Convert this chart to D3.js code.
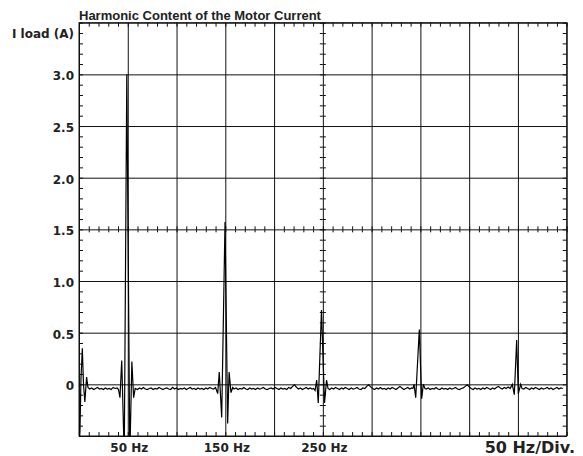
<!DOCTYPE html>
<html>
<head>
<meta charset="utf-8">
<script src="https://cdn.jsdelivr.net/npm/d3@7"></script>
<style>
  body { margin: 0; background: #fff; }
  svg { display: block; }
  .lbl { font-family: "DejaVu Sans", sans-serif; font-weight: bold; font-size: 12px; fill: #222; }
  .ttl { font-family: "Liberation Sans", Arial, sans-serif; font-weight: bold; font-size: 13px; fill: #222; }
</style>
</head>
<body>
<svg id="chart" width="583" height="456"></svg>
<script>
// axis data
var xMajor = [0, 50, 100, 150, 200, 250, 300, 350, 400, 450, 500];
var yMajor = [-0.5, 0, 0.5, 1.0, 1.5, 2.0, 2.5, 3.0, 3.5];
var xLabels = [50, 150, 250];
var yLabels = [0, 0.5, 1.0, 1.5, 2.0, 2.5, 3.0];
var xMinor = d3.range(0, 501, 10);
var yMinor = d3.range(-5, 36).map(function(d) { return d / 10; });

// spectrum trace: [frequency Hz, current A]
var dcPart = [[0.2,-0.6],[1.0,-0.45],[2.0,0.05],[3.4,0.35],[4.6,0.0],[6.0,-0.17],[7.8,0.07],[9.2,-0.03]];
var base1 = [[11,-0.045],[13,-0.035],[15,-0.05],[17,-0.04],[19,-0.03],[21,-0.045],[23,-0.04],[25,-0.05],[27,-0.035],[29,-0.045],[31,-0.04],[33,-0.05],[35,-0.03],[37,-0.04],[39,-0.035]];
var peak50 = [[40.5,-0.05],[42,-0.13],[43.8,0.23],[46.4,-0.7],[49,3.0],[52.1,-0.7],[54.2,0.22],[56,-0.13],[57.6,-0.04]];
var base2 = [[60,-0.05],[62,-0.035],[64,-0.045],[66,-0.03],[68,-0.045],[70,-0.05],[72,-0.04],[74,-0.035],[76,-0.05],[78,-0.04],[80,-0.045],[82,-0.03],[84,-0.04],[86,-0.05],[88,-0.04],[90,-0.035],[92,-0.045],[94,-0.05],[96,-0.03],[98,-0.045],[100,-0.035],[102,-0.05],[104,-0.04],[106,-0.045],[108,-0.035],[110,-0.05],[112,-0.04],[114,-0.03],[116,-0.045],[118,-0.04],[120,-0.05],[122,-0.035],[124,-0.045],[126,-0.04],[128,-0.05],[130,-0.035],[132,-0.045],[134,-0.03],[136,-0.04],[138,-0.045]];
var peak150 = [[140,-0.03],[142.2,-0.09],[143.8,0.12],[146.3,-0.32],[149.7,1.57],[152.4,-0.38],[153.9,0.12],[155.8,-0.08],[157.6,-0.03]];
var base3 = [[159,-0.045],[161,-0.035],[163,-0.05],[165,-0.04],[167,-0.045],[169,-0.03],[171,-0.045],[173,-0.05],[175,-0.035],[177,-0.045],[179,-0.04],[181,-0.05],[183,-0.035],[185,-0.045],[187,-0.04],[189,-0.03],[191,-0.045],[193,-0.05],[195,-0.04],[197,-0.035],[199,-0.045],[201,-0.03],[203,-0.04],[205,-0.05],[207,-0.035],[209,-0.045],[211,-0.04],[213,-0.05],[215,-0.03],[217,-0.04],[219,-0.02],[221,-0.005],[223,-0.03],[225,-0.045],[227,-0.035],[229,-0.05],[231,-0.04],[233,-0.03],[235,-0.045],[237,-0.035],[239,-0.045],[240.5,-0.04]];
var peak250 = [[242,-0.06],[243.7,0.04],[245.3,-0.18],[248.6,0.72],[251.7,-0.18],[253.8,0.04],[255.3,-0.04]];
var base4 = [[257,-0.05],[259,-0.035],[261,-0.045],[263,-0.03],[265,-0.04],[267,-0.05],[269,-0.035],[271,-0.045],[273,-0.03],[275,-0.04],[277,-0.05],[279,-0.035],[281,-0.045],[283,-0.04],[285,-0.03],[287,-0.045],[289,-0.05],[291,-0.035],[293,-0.04],[295,-0.02],[297,-0.005],[299,-0.025],[301,-0.04],[303,-0.05],[305,-0.035],[307,-0.045],[309,-0.03],[311,-0.045],[313,-0.04],[315,-0.05],[317,-0.035],[319,-0.045],[321,-0.03],[323,-0.04],[325,-0.05],[327,-0.035],[329,-0.02],[331,-0.035],[333,-0.05],[335,-0.04],[337,-0.03],[339,-0.045],[341,-0.035],[342.3,-0.04]];
var peak350 = [[343.5,0.0],[345.2,-0.13],[348.9,0.53],[351.3,-0.14],[353,0.0],[354.7,-0.04]];
var base5 = [[356,-0.045],[358,-0.035],[360,-0.05],[362,-0.04],[364,-0.045],[366,-0.03],[368,-0.045],[370,-0.05],[372,-0.035],[374,-0.045],[376,-0.04],[378,-0.05],[380,-0.035],[382,-0.045],[384,-0.04],[386,-0.03],[388,-0.045],[390,-0.05],[392,-0.04],[394,-0.035],[396,-0.02],[398,-0.005],[400,-0.025],[402,-0.04],[404,-0.05],[406,-0.035],[408,-0.045],[410,-0.04],[412,-0.05],[414,-0.035],[416,-0.045],[418,-0.03],[420,-0.04],[422,-0.05],[424,-0.035],[426,-0.045],[428,-0.03],[430,-0.02],[432,-0.035],[434,-0.045],[436,-0.03],[438,-0.04],[440,-0.025],[442,-0.04],[443.2,-0.02]];
var peak450 = [[444.2,0.0],[446.3,-0.10],[448.7,0.43],[450.4,-0.09],[452.8,0.0],[454.2,-0.04]];
var base6 = [[456,-0.045],[458,-0.03],[460,-0.04],[462,-0.05],[464,-0.035],[466,-0.045],[468,-0.03],[470,-0.04],[472,-0.05],[474,-0.035],[476,-0.045],[478,-0.04],[480,-0.03],[482,-0.045],[484,-0.035],[486,-0.05],[488,-0.04],[490,-0.03],[492,-0.045],[494,-0.035],[496,-0.04]];

var trace = [].concat(dcPart, base1, peak50, base2, peak150, base3, peak250, base4, peak350, base5, peak450, base6);

(function() {
    var marginLeft = 79, marginTop = 22.7, width = 487.7, height = 413.3;

    var svg = d3.select("#chart");
    var g = svg.append("g").attr("transform", "translate(" + marginLeft + "," + marginTop + ")");

    var x = d3.scaleLinear().domain([0, 500]).range([0, width]);
    var y = d3.scaleLinear().domain([-0.5, 3.5]).range([height, 0]);

    function clean(sel) {
        sel.select(".domain").remove();
        sel.selectAll(".tick line").attr("stroke", "#111").attr("stroke-width", 1);
        sel.selectAll(".tick text").remove();
    }

    // grid lines
    g.append("g").attr("transform", "translate(0," + height + ")")
        .call(d3.axisBottom(x).tickValues(xMajor).tickSize(-height).tickFormat(""))
        .call(clean);
    g.append("g")
        .call(d3.axisLeft(y).tickValues(yMajor).tickSize(-width).tickFormat(""))
        .call(clean);

    // minor ticks on the frame
    g.append("g").call(d3.axisTop(x).tickValues(xMinor).tickSize(-4).tickFormat("")).call(clean);
    g.append("g").attr("transform", "translate(0," + height + ")")
        .call(d3.axisBottom(x).tickValues(xMinor).tickSize(-4).tickFormat("")).call(clean);
    g.append("g").call(d3.axisLeft(y).tickValues(yMinor).tickSize(-4).tickFormat("")).call(clean);
    g.append("g").attr("transform", "translate(" + width + ",0)")
        .call(d3.axisRight(y).tickValues(yMinor).tickSize(-4).tickFormat("")).call(clean);

    // cross ticks on the centre lines
    [3, -3].forEach(function(s) {
        g.append("g").attr("transform", "translate(0," + y(1.5) + ")")
            .call(d3.axisBottom(x).tickValues(xMinor).tickSize(s).tickFormat("")).call(clean);
        g.append("g").attr("transform", "translate(" + x(250) + ",0)")
            .call(d3.axisLeft(y).tickValues(yMinor).tickSize(s).tickFormat("")).call(clean);
    });

    // frame
    g.append("rect").attr("width", width).attr("height", height)
        .attr("fill", "none").attr("stroke", "#111").attr("stroke-width", 1);

    // trace
    g.append("clipPath").attr("id", "clip")
        .append("rect").attr("width", width).attr("height", height);
    var line = d3.line()
        .x(function(d) { return x(d[0]); })
        .y(function(d) { return y(d[1]); });
    g.append("path").datum(trace)
        .attr("clip-path", "url(#clip)")
        .attr("d", line)
        .attr("fill", "none")
        .attr("stroke", "#000")
        .attr("stroke-width", 1.2)
        .attr("stroke-linejoin", "miter");

    // labels
    var yAx = g.append("g")
        .call(d3.axisLeft(y).tickValues(yLabels).tickSize(0).tickPadding(5)
            .tickFormat(function(d) { return d === 0 ? "0" : d.toFixed(1); }));
    yAx.select(".domain").remove();
    yAx.selectAll("text").attr("class", "lbl").attr("font-family", null).attr("font-size", null)
        .attr("fill", null).attr("dy", "0.45em");
    yAx.attr("font-family", null).attr("font-size", null);

    var xAx = g.append("g").attr("transform", "translate(0," + height + ")")
        .call(d3.axisBottom(x).tickValues(xLabels).tickSize(0).tickPadding(5)
            .tickFormat(function(d) { return d + " Hz"; }));
    xAx.select(".domain").remove();
    xAx.selectAll("text").attr("class", "lbl").attr("font-family", null).attr("font-size", null)
        .attr("fill", null).attr("dx", 1).attr("dy", "0.9em");
    xAx.attr("font-family", null).attr("font-size", null);

    svg.append("text").attr("class", "ttl").attr("x", marginLeft).attr("y", 19.5)
        .text("Harmonic Content of the Motor Current");
    svg.append("text").attr("class", "lbl").attr("x", 74).attr("y", 37.5)
        .attr("text-anchor", "end").text("I load (A)");
    svg.append("text").attr("class", "lbl").attr("x", 575).attr("y", 452.5)
        .attr("text-anchor", "end").style("font-size", "16px").text("50 Hz/Div.");
})();
</script>
</body>
</html>
